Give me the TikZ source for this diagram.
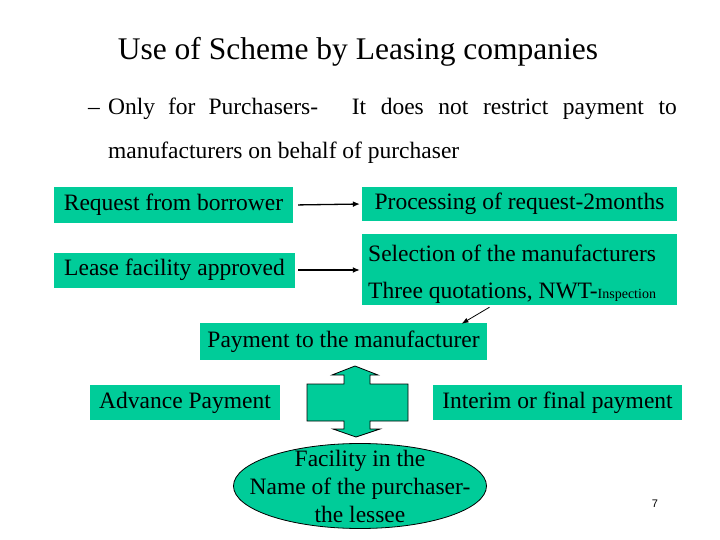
\documentclass[tikz,border=0pt]{standalone}
\usepackage{fontspec}
\setmainfont{Liberation Serif}
\setsansfont{Liberation Sans}
\usepackage{tikz}
\usetikzlibrary{arrows.meta}
\definecolor{lease}{HTML}{00CC99}
\definecolor{ink}{HTML}{000000}
\tikzset{
  box/.style={fill=lease, inner sep=0pt, text=ink, font=\fontsize{23.5}{28}\selectfont},
  oval/.style={fill=lease, draw=ink, line width=0.8pt},
  link/.style={draw=ink, line width=1.3pt, -{Latex[length=7pt,width=6pt]}},
  thin/.style={draw=ink, line width=0.8pt, -{Latex[length=7pt,width=5pt]}},
  head/.style={text=ink, font=\fontsize{31.5}{36}\selectfont},
  lab/.style={text=ink, font=\fontsize{23.5}{28}\selectfont},
}

\begin{document}
\begin{tikzpicture}[x=1pt,y=-1pt]
  \useasboundingbox (0,0) rectangle (720,540);

  % heading and bullet text
  \node[head] (title) at (358,52) {Use of Scheme by Leasing companies};
  \node[lab,anchor=base west,inner sep=0pt] (dash) at (88,115) {--};
  \node[lab,anchor=base west,inner sep=0pt] (only) at (108,115)
    {\makebox[210pt][s]{Only for Purchasers-}};
  \node[lab,anchor=base east,inner sep=0pt] (restrict) at (677,115)
    {\makebox[325pt][s]{It does not restrict payment to}};
  \node[lab,anchor=base west,inner sep=0pt] (behalf) at (108,159)
    {manufacturers on behalf of purchaser};

  % left and right columns
  \node[box,minimum width=239pt,minimum height=36pt] (req) at (173.5,205) {Request from borrower};
  \node[box,minimum width=315pt,minimum height=34pt] (proc) at (519.5,204) {Processing of request-2months};
  \node[box,minimum width=241pt,minimum height=35pt] (appr) at (174.5,270) {Lease facility approved};
  \node[box,minimum width=315pt,minimum height=71pt] (select) at (519.5,269.5) {};
  \node[box,fill=none,anchor=base west] (sel1) at (368,261) {Selection of the manufacturers};
  \node[box,fill=none,anchor=base west] (sel2) at (368,298)
    {Three quotations, NWT-{\fontsize{14}{16}\selectfont Inspection}};

  \draw[link,shorten <=5pt,shorten >=2pt] (req.east) -- (proc.west);
  \draw[link,shorten <=3pt,shorten >=2pt] (appr.east) -- (appr.east -| select.west);

  % payment row
  \node[box,minimum width=287pt,minimum height=37pt] (pay) at (343.5,341.5) {Payment to the manufacturer};
  \draw[thin] ([xshift=-30pt,yshift=-2pt]select.south) -- ([xshift=118pt,yshift=-1pt]pay.north);

  \node[box,minimum width=190pt,minimum height=35pt] (adv) at (185,402.5) {Advance Payment};
  \node[box,minimum width=249pt,minimum height=35pt] (interim) at (557.5,402.5) {Interim or final payment};

  % up-down arrow between the payments
  \filldraw[fill=lease,draw=ink,line width=0.8pt,line join=miter]
    (355,366) -- (378,375) -- (370,375) -- (370,384) -- (408,384) -- (408,421)
    -- (370,421) -- (370,429) -- (380,429) -- (356,437) -- (333,429) -- (344,429)
    -- (344,421) -- (307,421) -- (307,384) -- (344,384) -- (344,375) -- (332,375) -- cycle;

  \coordinate (fac) at (360,486);
  \filldraw[oval] (fac) ellipse [x radius=126.5, y radius=42.5];
  \node[box,fill=none,align=center] (facility) at (fac)
    {Facility in the\\Name of the purchaser-\\the lessee};

  \node[font=\sffamily\fontsize{11}{13}\selectfont] (page) at (655,504) {7};
\end{tikzpicture}
\end{document}
